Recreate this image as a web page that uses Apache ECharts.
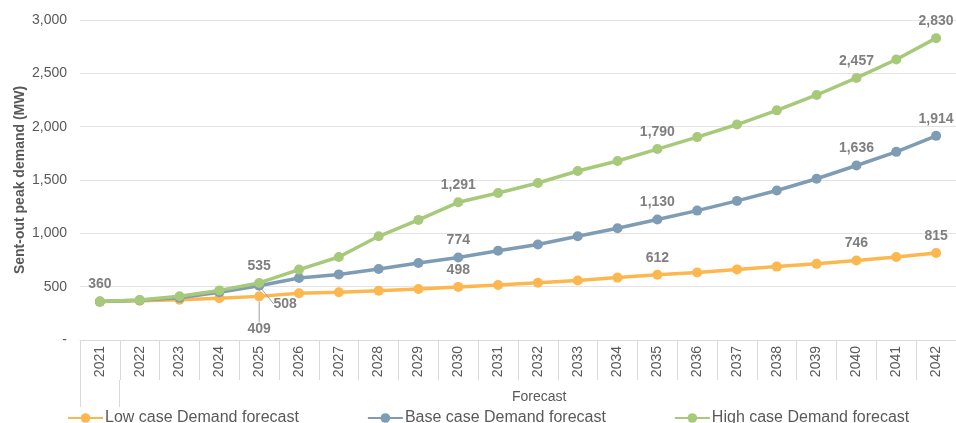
<!DOCTYPE html>
<html>
<head>
<meta charset="utf-8">
<style>
  html, body { margin: 0; padding: 0; background: #fff; }
  #chart { width: 956px; height: 423px; }
</style>
<script src="https://cdn.jsdelivr.net/npm/echarts@6/dist/echarts.min.js"></script>
</head>
<body>
<div id="chart"></div>
<script>
// years on the category axis
const years = ['2021', '2022', '2023', '2024', '2025', '2026', '2027', '2028', '2029', '2030', '2031',
  '2032', '2033', '2034', '2035', '2036', '2037', '2038', '2039', '2040', '2041', '2042'];

// peak demand (MW)
const lowCase = [360, 368, 378, 392, 409, 438, 447, 462, 478, 498, 515, 537, 558, 585, 612, 632, 662, 688, 714, 746, 778, 815];
const baseCase = [360, 372, 395, 448, 508, 582, 615, 665, 722, 774, 836, 895, 973, 1048, 1130, 1213, 1304, 1402, 1512, 1636, 1764, 1914];
const highCase = [360, 375, 410, 465, 535, 660, 778, 972, 1126, 1291, 1378, 1472, 1584, 1678, 1790, 1902, 2020, 2153, 2297, 2457, 2630, 2830];

// which points carry a value label
const lowLabelled = [4, 9, 14, 19, 21];
const baseLabelled = [4, 9, 14, 19, 21];
const highLabelled = [0, 4, 9, 14, 19, 21];

// the 2025 labels of low/base sit away from their point with a leader line
const LEADER_INDEX = 4;

const GREY = '#595959';
const LABEL_GREY = '#7f7f7f';

function withLabels(values, idx, leader) {
  return values.map((v, i) => {
    const item = { value: v, label: { show: idx.indexOf(i) >= 0 } };
    if (leader && i === LEADER_INDEX) {
      item.labelLine = { show: true, lineStyle: { color: '#a0a0a0', width: 1 } };
    }
    return item;
  });
}

function makeSeries(name, values, idx, color, extra, leader) {
  return Object.assign({
    name: name,
    type: 'line',
    data: withLabels(values, idx, leader),
    symbol: 'circle',
    symbolSize: 10,
    lineStyle: { width: 3.5, color: color },
    itemStyle: { color: color },
    label: {
      position: 'top',
      distance: 5,
      color: LABEL_GREY,
      fontSize: 14,
      fontWeight: 'bold',
      fontFamily: 'Liberation Sans',
      formatter: p => p.value.toLocaleString('en-US')
    },
    emphasis: { disabled: true }
  }, extra || {});
}

const chart = echarts.init(document.getElementById('chart'));

chart.setOption({
  animation: false,
  textStyle: { fontFamily: 'Liberation Sans' },
  grid: { left: 80, right: 0, top: 20, bottom: 83 },
  legend: {
    left: 62,
    top: 405,
    itemWidth: 35,
    itemHeight: 12,
    itemGap: 68,
    textStyle: { fontSize: 16, color: GREY, padding: [0, 0, 0, -3] },
    data: ['Low case Demand forecast', 'Base case Demand forecast', 'High case Demand forecast']
  },
  xAxis: {
    type: 'category',
    data: years,
    boundaryGap: true,
    axisLine: { lineStyle: { color: '#d9d9d9', width: 1 } },
    axisTick: { show: true, interval: 0, length: 40, lineStyle: { color: '#d9d9d9' } },
    axisLabel: { interval: 0, rotate: 90, fontSize: 14, color: GREY, margin: 6 },
    splitLine: { show: false }
  },
  yAxis: {
    type: 'value',
    min: 0,
    max: 3000,
    interval: 500,
    name: 'Sent-out peak demand (MW)',
    nameLocation: 'middle',
    nameGap: 53,
    nameMoveOverlap: false,
    nameTextStyle: { fontSize: 14, fontWeight: 'bold', color: GREY },
    axisLine: { show: false },
    axisTick: { show: false },
    axisLabel: {
      fontSize: 14,
      color: GREY,
      margin: 13,
      formatter: v => v === 0 ? '-' : v.toLocaleString('en-US')
    },
    splitLine: { lineStyle: { color: '#e3e3e3', width: 1 } }
  },
  graphic: [
    // axis title, placed like the original
    { type: 'text', left: 512, top: 390, style: { text: 'Forecast', fontSize: 14, fill: GREY, fontFamily: 'Liberation Sans' } },
    // the taller group ticks under the first year
    { type: 'line', shape: { x1: 80.5, y1: 380, x2: 80.5, y2: 407 }, style: { stroke: '#d9d9d9', lineWidth: 1 } },
    { type: 'line', shape: { x1: 119.5, y1: 380, x2: 119.5, y2: 407 }, style: { stroke: '#d9d9d9', lineWidth: 1 } }
  ],
  series: [
    makeSeries('Low case Demand forecast', lowCase, lowLabelled, '#fdb74f', {
      z: 2,
      labelLayout: p => p.dataIndex === LEADER_INDEX ? { dy: 50 } : {}
    }, true),
    makeSeries('Base case Demand forecast', baseCase, baseLabelled, '#7e9cb4', {
      z: 3,
      labelLayout: p => p.dataIndex === LEADER_INDEX ? { dx: 26, dy: 35 } : {}
    }, true),
    makeSeries('High case Demand forecast', highCase, highLabelled, '#a7c97a', { z: 4 })
  ]
});
</script>
</body>
</html>
